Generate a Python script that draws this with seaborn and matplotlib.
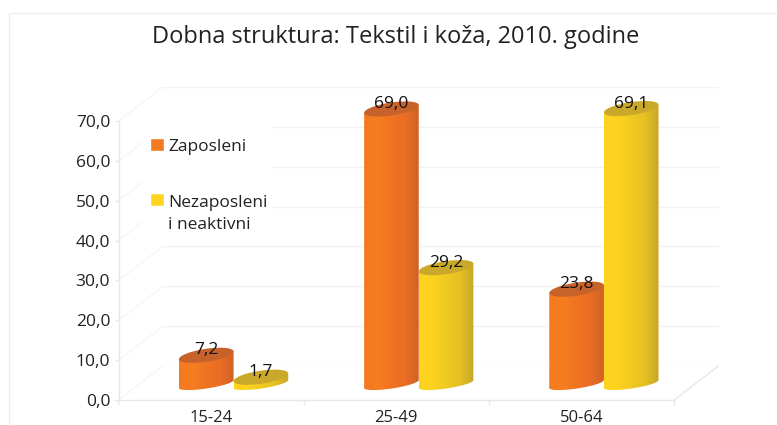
import numpy as np
import pandas as pd
import matplotlib
matplotlib.use("Agg")
import matplotlib.pyplot as plt
from matplotlib.colors import LinearSegmentedColormap
from matplotlib.lines import Line2D
from matplotlib.patches import PathPatch, Rectangle
from matplotlib.path import Path
from matplotlib.transforms import Affine2D, IdentityTransform
import seaborn as sns

title = "Dobna struktura: Tekstil i koža, 2010. godine"
groups = ["15-24", "25-49", "50-64"]
employed = [7.2, 69.0, 23.8]
unemployed = [1.7, 29.2, 69.1]
employed_name = "Zaposleni"
unemployed_name = "Nezaposleni\ni neaktivni"
y_ticks = [0, 10, 20, 30, 40, 50, 60, 70]

W, H = 777, 425
sns.set_style("white")
plt.rcParams["font.family"] = ["Open Sans", "DejaVu Sans"]
TXT = "#222222"
GRID = "#f3f3f3"
fig = plt.figure(figsize=(W / 100, H / 100), dpi=100, facecolor="white")


def axes_px(dx, dy):
    x0, x1, y0, y1 = 118.5 + dx, 674 + dx, 400 - dy, 121 - dy
    ax = fig.add_axes([x0 / W, 1 - y0 / H, (x1 - x0) / W, (y0 - y1) / H])
    ax.set_xlim(-0.5, 2.5)
    ax.set_ylim(0, 70)
    ax.patch.set_alpha(0)
    return ax


# Back wall
ax_back = axes_px(44.5, 34)
ax_back.set_zorder(1)
ax_back.set_xticks([])
ax_back.set_yticks(y_ticks)
ax_back.tick_params(left=False, labelleft=False)
ax_back.grid(axis="y", color=GRID, lw=1)
sns.despine(ax=ax_back, left=True, bottom=True)

# Front axis
ax = axes_px(0, 0)
ax.set_zorder(2)
ax.set_xticks(range(3), groups)
ax.set_xticks([-0.5, 0.5, 1.5, 2.5], minor=True)
ax.set_yticks(y_ticks, [f"{v:.1f}".replace(".", ",") for v in y_ticks])
ax.tick_params(axis="x", which="major", length=0, pad=7, labelsize=12, labelcolor=TXT)
ax.tick_params(axis="x", which="minor", length=3.5, width=1, color="#e8e8e8", bottom=True)
ax.tick_params(axis="y", length=3, width=1, color="#e8e8e8", left=True, pad=3,
               labelsize=12.5, labelcolor=TXT)
for s in ("top", "right"):
    ax.spines[s].set_visible(False)
for s in ("left", "bottom"):
    ax.spines[s].set_color("#e8e8e8")
    ax.spines[s].set_linewidth(1)

# Side wall and floor edges
to_fig = fig.transFigure.inverted()
def seg(p, q, color=GRID):
    a, b = to_fig.transform(p), to_fig.transform(q)
    fig.add_artist(Line2D([a[0], b[0]], [a[1], b[1]], color=color, lw=1,
                          transform=fig.transFigure, zorder=1.5))
for v in y_ticks:
    p = ax.transData.transform((-0.5, v))
    seg(p, p + [44.5, 34], "#f6f6f6")
p = ax.transData.transform((2.5, 0))
seg(p, p + [44.5, 34], "#e8e8e8")

# White area behind the legend
fig.add_artist(Rectangle((143 / W, 1 - 240 / H), 129 / W, 125 / H, fc="white", ec="none",
                         transform=fig.transFigure, zorder=1.7))
# Outer frame
fig.add_artist(Line2D([9 / W, 9 / W, 1], [0, 1 - 12.5 / H, 1 - 12.5 / H], color="#eeeeee", lw=1,
                      transform=fig.transFigure, zorder=1.2))

# Bars, seated half way into the floor
ax_bar = axes_px(22.5, 16)
ax_bar.set_zorder(3)
df = pd.DataFrame({
    "group": groups * 2,
    "value": employed + unemployed,
    "series": [employed_name] * 3 + [unemployed_name] * 3,
})
ORANGE, YELLOW = "#F37A20", "#FFD420"
sns.barplot(data=df, x="group", y="value", hue="series", ax=ax_bar, width=0.59, gap=0,
            palette=[ORANGE, YELLOW], saturation=1, errorbar=None, legend=True)
ax_bar.set_xlim(-0.5, 2.5)
ax_bar.set_ylim(0, 70)
ax_bar.set(xlabel="", ylabel="", xticks=[], yticks=[])
sns.despine(ax=ax_bar, left=True, bottom=True)

cmaps = {
    ORANGE: LinearSegmentedColormap.from_list("o", ["#F37A20", "#F67E1F", "#F07322", "#EA6E24", "#D26226"]),
    YELLOW: LinearSegmentedColormap.from_list("y", ["#FFD420", "#FDD320", "#F0C920", "#E6C022", "#C8A72A"]),
}
tops = {ORANGE: "#C8622B", YELLOW: "#C9A82A"}
TILT, MINOR, BASE_MINOR = 8.5, 6.5, 4.5
c, s = np.cos(np.radians(TILT)), np.sin(np.radians(TILT))

values = employed + unemployed
for bar, val, col in zip(ax_bar.patches[:6], values, [ORANGE] * 3 + [YELLOW] * 3):
    xc = bar.get_x() + bar.get_width() / 2
    (xl, yb), (xr, yt) = ax_bar.transData.transform(
        [(bar.get_x(), 0), (bar.get_x() + bar.get_width(), val)])
    cx, half = (xl + xr) / 2, (xr - xl) / 2
    rise = half * np.tan(np.radians(TILT))
    major = half / c
    top_face = Path.unit_circle().transformed(
        Affine2D().scale(major, MINOR).rotate_deg(TILT).translate(cx, yt))
    # Body outline: sloped top, straight sides, lower half of the base ellipse
    t = np.linspace(0, -np.pi, 40)
    ex, ey = major * np.cos(t), BASE_MINOR * np.sin(t)
    lower = np.column_stack([cx + ex * c - ey * s, yb + ex * s + ey * c])
    outline = Path(np.vstack([[(xl, yt - rise), (xr, yt + rise)], lower, [(xl, yt - rise)]]), closed=True)
    grad = np.linspace(0, 1, 64).reshape(1, -1)
    x0, x1 = bar.get_x(), bar.get_x() + bar.get_width()
    im = ax_bar.imshow(grad, extent=(x0, x1, -3, val + 3), aspect="auto", cmap=cmaps[col],
                       zorder=4, interpolation="bilinear")
    im.set_clip_box(fig.bbox)
    im.set_clip_path(outline, IdentityTransform())
    bar.set_visible(False)
    # Top face of the cylinder
    ax_bar.add_patch(PathPatch(top_face, fc=tops[col], ec="none", transform=IdentityTransform(),
                               zorder=5, clip_on=False))
    ax_bar.annotate(f"{val:.1f}".replace(".", ","), (xc, val), xytext=(0, 5),
                    textcoords="offset pixels", ha="center", va="center", fontsize=12.5,
                    color="#111111", zorder=6, annotation_clip=False)
ax_bar.set_xlim(-0.5, 2.5)
ax_bar.set_ylim(0, 70)

# Legend
sns.move_legend(ax_bar, "upper left", bbox_to_anchor=(150 / W, 1 - 138 / H),
                bbox_transform=fig.transFigure, frameon=False, title=None,
                fontsize=12.5, handlelength=0.8, handleheight=0.8, handletextpad=0.25,
                labelspacing=2.35, labelcolor=TXT, borderpad=0, borderaxespad=0)
leg = ax_bar.get_legend()
for text in leg.get_texts():
    text.set_linespacing(1.5)
# Swatch sits beside the first line of the two-line entry
h = leg.legend_handles[1]
h.set_y(h.get_y() + 10.7)

fig.text(395.5 / W, 1 - 37 / H, title, ha="center", va="center", fontsize=17, color=TXT)
fig.savefig("out.png", dpi=100)
